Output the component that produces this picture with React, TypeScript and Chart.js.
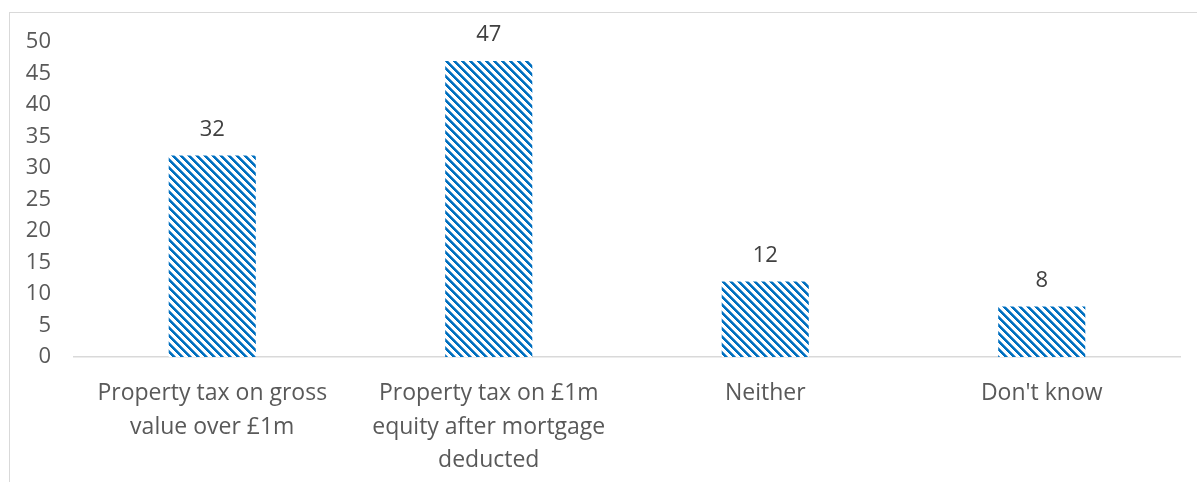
import React, { useEffect, useRef } from "react";
import { Chart, registerables } from "chart.js";

Chart.register(...registerables);

const categories: (string | string[])[] = [
  ["Property tax on gross", "value over £1m"],
  ["Property tax on £1m", "equity after mortgage", "deducted"],
  "Neither",
  "Don't know",
];
const values: number[] = [32, 47, 12, 8];
const yTicks: number[] = [0, 5, 10, 15, 20, 25, 30, 35, 40, 45, 50];

const FONT = "'Open Sans', 'Noto Sans', sans-serif";

function makePattern(): CanvasPattern | string {
  const c = document.createElement("canvas");
  c.width = 8;
  c.height = 8;
  const ctx = c.getContext("2d");
  if (!ctx) return "#0070C0";
  ctx.fillStyle = "#ffffff";
  ctx.fillRect(0, 0, 8, 8);
  for (let y = 0; y < 8; y++) {
    for (let x = 0; x < 8; x++) {
      const d = (((x - y) % 8) + 8) % 8;
      if (d < 3) {
        ctx.fillStyle = "#0070C0";
        ctx.fillRect(x, y, 1, 1);
      } else if (d === 3) {
        ctx.fillStyle = "#5a9fd6";
        ctx.fillRect(x, y, 1, 1);
      }
    }
  }
  const p = ctx.createPattern(c, "repeat");
  return p || "#0070C0";
}

const valueLabels = {
  id: "valueLabels",
  afterDatasetsDraw(chart: any) {
    const ctx = chart.ctx;
    const meta = chart.getDatasetMeta(0);
    ctx.save();
    ctx.font = `22px ${FONT}`;
    ctx.fillStyle = "#404040";
    ctx.textAlign = "center";
    ctx.textBaseline = "middle";
    meta.data.forEach((bar: any, i: number) => {
      ctx.fillText(String(values[i]), bar.x, bar.y - 26);
    });
    ctx.restore();
  },
};

export default function App() {
  const ref = useRef<HTMLCanvasElement | null>(null);
  useEffect(() => {
    if (!ref.current) return;
    const chart = new Chart(ref.current, {
      type: "bar",
      data: {
        labels: categories,
        datasets: [
          {
            data: values,
            backgroundColor: makePattern() as any,
            borderWidth: 0,
            barPercentage: 0.315,
            categoryPercentage: 1,
          },
        ],
      },
      options: {
        responsive: false,
        animation: false,
        devicePixelRatio: 1,
        layout: { padding: { top: 42, left: 0, right: 17, bottom: 0 } },
        plugins: { legend: { display: false }, tooltip: { enabled: false } },
        scales: {
          x: {
            grid: { display: false, drawTicks: false },
            border: { display: true, color: "#d9d9d9", width: 1.5 },
            ticks: {
              color: "#595959",
              font: { family: FONT, size: 23, lineHeight: 1.45 },
              padding: 20,
              maxRotation: 0,
              autoSkip: false,
            },
            afterFit(scale: any) {
              scale.height = 125;
            },
          },
          y: {
            min: 0,
            max: 50,
            grid: { display: false, drawTicks: false },
            border: { display: false },
            afterBuildTicks(scale: any) {
              scale.ticks = yTicks.map((v) => ({ value: v }));
            },
            ticks: {
              color: "#595959",
              font: { family: FONT, size: 22 },
              padding: 23,
            },
            afterFit(scale: any) {
              scale.width = 74;
            },
          },
        },
      },
      plugins: [valueLabels],
    });
    return () => chart.destroy();
  }, []);

  return (
    <div
      style={{
        position: "absolute",
        left: 0,
        top: 0,
        width: 1197,
        height: 482,
        background: "#ffffff",
        overflow: "hidden",
      }}
    >
      <div
        style={{
          position: "absolute",
          left: 9,
          top: 12,
          width: 1188,
          height: 470,
          borderTop: "1.5px solid #d9d9d9",
          borderLeft: "1.5px solid #d9d9d9",
          boxSizing: "border-box",
        }}
      />
      <canvas
        ref={ref}
        width={1197}
        height={482}
        style={{ position: "absolute", left: 0, top: 0 }}
      />
    </div>
  );
}
